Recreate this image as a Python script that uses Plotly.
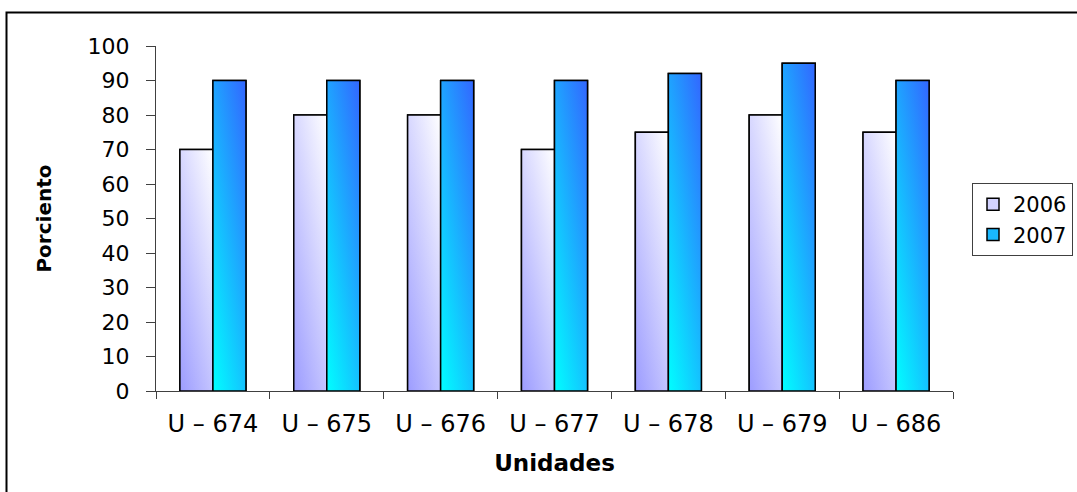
import plotly.graph_objects as go

# Units and yearly percentages
units = ["U – 674", "U – 675", "U – 676", "U – 677", "U – 678", "U – 679", "U – 686"]
pct_2006 = [70, 80, 80, 70, 75, 80, 75]
pct_2007 = [90, 90, 90, 90, 92, 95, 90]
y_ticks = list(range(0, 101, 10))

# Canvas and plot-area geometry (px)
W, H = 1077, 492
L, R, T, B = 156, 124, 46, 101
PW, PH = W - L - R, H - T - B

FONT = "DejaVu Sans"
AXIS_COLOR = "#404040"
BAR_W = 0.29          # width of one bar in category units
V_WEIGHT = 0.6        # share of the vertical component in the diagonal gradient

idx = list(range(len(units)))


def rgba(hex_color, a):
    h = hex_color.lstrip("#")
    r, g, b = int(h[0:2], 16), int(h[2:4], 16), int(h[4:6], 16)
    return f"rgba({r},{g},{b},{a})"


series = [
    dict(name="2006", values=pct_2006, offset=-BAR_W,
         lo="#9c9cff", hi="#ffffff", mid="#d2d2ff"),
    dict(name="2007", values=pct_2007, offset=0.0,
         lo="#00ffff", hi="#3366ff", mid="#19b8ff"),
]

fig = go.Figure()

# Base bars (carry the data and the legend entries)
for s in series:
    fig.add_trace(go.Bar(
        x=idx, y=s["values"], name=s["name"],
        width=BAR_W, offset=s["offset"],
        marker=dict(color=s["mid"], line=dict(color="black", width=1.5)),
        hoverinfo="x+y",
    ))

# Diagonal gradient fill on each bar: an opaque horizontal ramp
# with a translucent vertical ramp on top
for s in series:
    for i, v in zip(idx, s["values"]):
        x0 = i + s["offset"]
        x1 = x0 + BAR_W
        xs = [x0, x1, x1, x0, x0]
        ys = [0, 0, v, v, 0]
        fig.add_trace(go.Scatter(
            x=xs, y=ys, mode="lines", fill="toself",
            line=dict(width=0, color="rgba(0,0,0,0)"),
            fillgradient=dict(type="horizontal",
                              colorscale=[[0, s["lo"]], [1, s["hi"]]],
                              start=x0, stop=x1),
            showlegend=False, hoverinfo="skip",
        ))
        fig.add_trace(go.Scatter(
            x=xs, y=ys, mode="lines", fill="toself",
            line=dict(width=1.5, color="black"),
            fillgradient=dict(type="vertical",
                              colorscale=[[0, rgba(s["lo"], V_WEIGHT)],
                                          [1, rgba(s["hi"], V_WEIGHT)]],
                              start=0, stop=v),
            showlegend=False, hoverinfo="skip",
        ))

fig.update_layout(
    width=W, height=H,
    margin=dict(l=L, r=R, t=T, b=B, autoexpand=False),
    paper_bgcolor="white", plot_bgcolor="white",
    barmode="overlay",
    showlegend=True,
    font=dict(family=FONT, color="black"),
    xaxis=dict(
        range=[-0.5, len(units) - 0.5],
        tickmode="array", tickvals=idx, ticktext=units,
        ticks="", ticklabelstandoff=11,
        tickfont=dict(family=FONT, size=24, color="black"),
        showline=True, linecolor=AXIS_COLOR, linewidth=1,
        showgrid=False, zeroline=False,
        minor=dict(tickmode="linear", tick0=-0.5, dtick=1,
                   ticks="outside", ticklen=7, tickwidth=1,
                   tickcolor=AXIS_COLOR, showgrid=False),
        title=dict(text="<b>Unidades</b>", standoff=18,
                   font=dict(family=FONT, size=23, color="black")),
    ),
    yaxis=dict(
        range=[0, 100], tickmode="array", tickvals=y_ticks,
        ticks="outside", ticklen=9, tickwidth=1, tickcolor=AXIS_COLOR,
        ticklabelstandoff=12,
        tickfont=dict(family=FONT, size=22, color="black"),
        showline=True, linecolor=AXIS_COLOR, linewidth=1,
        showgrid=False, zeroline=False,
        title=dict(text="<b>Porciento</b>", standoff=30,
                   font=dict(family=FONT, size=20, color="black")),
    ),
    legend=dict(
        x=(972 - L) / PW, y=(T + PH - 183) / PH,
        xanchor="left", yanchor="top",
        bgcolor="white", bordercolor=AXIS_COLOR, borderwidth=1,
        font=dict(family=FONT, size=21, color="black"),
        tracegroupgap=0,
    ),
    shapes=[dict(
        type="rect", xref="paper", yref="paper",
        x0=(6.5 - L) / PW, x1=(W + 10 - L) / PW,
        y0=(T + PH - (H + 10)) / PH, y1=(T + PH - 12.5) / PH,
        line=dict(color="black", width=2), fillcolor="rgba(0,0,0,0)",
        layer="below",
    )],
)

fig.write_html("out.html")
